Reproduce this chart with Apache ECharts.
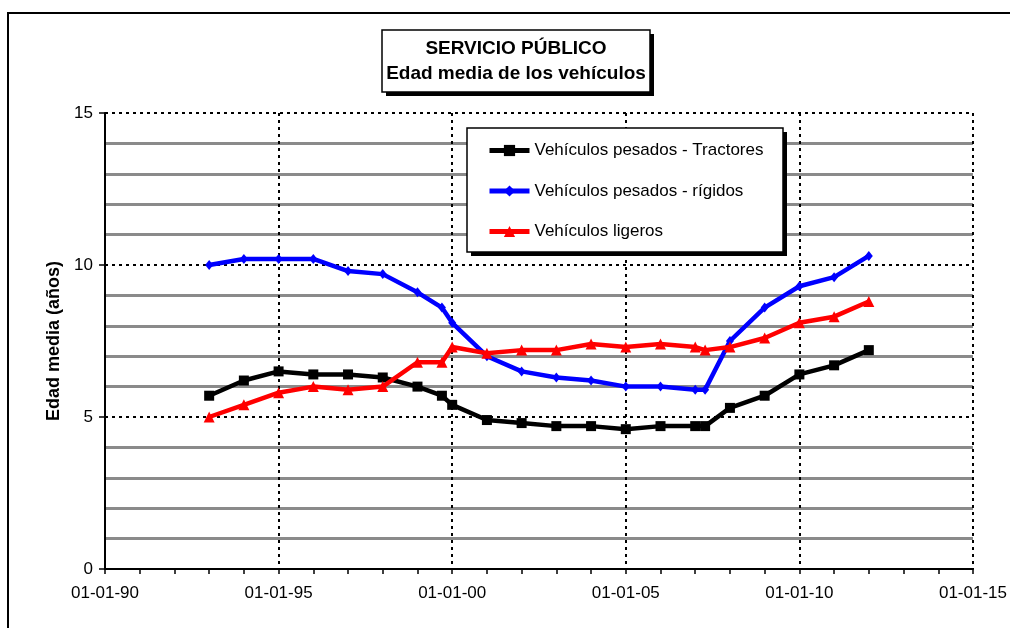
<!DOCTYPE html>
<html>
<head>
<meta charset="utf-8">
<script src="https://cdn.jsdelivr.net/npm/echarts@6/dist/echarts.min.js"></script>
<style>
  html, body { margin: 0; padding: 0; background: #fff; }
  #chart { width: 1010px; height: 628px; }
</style>
</head>
<body>
<div id="chart"></div>
<script>
// fechas de los datos (dd-mm-aa en el eje)
var fechas = [
  "1993-01-01", "1994-01-01", "1995-01-01", "1996-01-01", "1997-01-01",
  "1998-01-01", "1999-01-01", "1999-09-15", "2000-01-01", "2001-01-01",
  "2002-01-01", "2003-01-01", "2004-01-01", "2005-01-01", "2006-01-01",
  "2007-01-01", "2007-04-15", "2008-01-01", "2009-01-01", "2010-01-01",
  "2011-01-01", "2012-01-01",
];
var tractores = [5.7, 6.2, 6.5, 6.4, 6.4, 6.3, 6.0, 5.7, 5.4, 4.9, 4.8, 4.7, 4.7, 4.6, 4.7, 4.7, 4.7, 5.3, 5.7, 6.4, 6.7, 7.2];
var rigidos = [10.0, 10.2, 10.2, 10.2, 9.8, 9.7, 9.1, 8.6, 8.1, 7.0, 6.5, 6.3, 6.2, 6.0, 6.0, 5.9, 5.9, 7.5, 8.6, 9.3, 9.6, 10.3];
var ligeros = [5.0, 5.4, 5.8, 6.0, 5.9, 6.0, 6.8, 6.8, 7.3, 7.1, 7.2, 7.2, 7.4, 7.3, 7.4, 7.3, 7.2, 7.3, 7.6, 8.1, 8.3, 8.8];
var nombres = ["Vehículos pesados - Tractores", "Vehículos pesados - rígidos", "Vehículos ligeros"];

var FONT = "'Liberation Sans', Arial, sans-serif";
var gris = "#8a8a8a";
var nada = "rgba(0,0,0,0)";

// fecha -> año decimal
function anio(f) {
  var d = new Date(f + "T00:00:00Z");
  var y = d.getUTCFullYear();
  var ini = Date.UTC(y, 0, 1);
  var fin = Date.UTC(y + 1, 0, 1);
  return y + (d.getTime() - ini) / (fin - ini);
}

function puntos(vals) {
  return vals.map(function(v, i) {
    return [anio(fechas[i]), v];
  });
}

// caja con sombra negra (titulo y leyenda)
function caja(x, y, w, h) {
  return [
    {
      type: "rect",
      z: 10,
      shape: { x: x + 4, y: y + 4, width: w, height: h },
      style: { fill: "#000" },
    },
    {
      type: "rect",
      z: 11,
      shape: { x: x, y: y, width: w, height: h },
      style: { fill: "#fff", stroke: "#000", lineWidth: 1.5 },
    },
  ];
}

var chart = echarts.init(document.getElementById("chart"));
chart.setOption({
  animation: false,
  backgroundColor: "#fff",
  textStyle: { fontFamily: FONT },
  graphic: [
    {
      type: "rect",
      z: -10,
      shape: { x: 8, y: 13, width: 1100, height: 700 },
      style: { fill: null, stroke: "#000", lineWidth: 2 },
    },
  ]
    .concat(caja(382, 30, 268, 62))
    .concat(caja(467, 128, 316, 124)),
  title: {
    text: "SERVICIO PÚBLICO\nEdad media de los vehículos",
    left: 516,
    top: 36,
    textAlign: "center",
    padding: 0,
    z: 20,
    textStyle: {
      fontFamily: FONT,
      fontWeight: "bold",
      fontSize: 19,
      lineHeight: 25,
      color: "#000",
    },
  },
  legend: {
    data: nombres,
    orient: "vertical",
    left: 487,
    top: 142,
    itemWidth: 40,
    itemHeight: 14,
    itemGap: 23.5,
    padding: 0,
    z: 20,
    lineStyle: { width: 5 },
    textStyle: { fontFamily: FONT, fontSize: 17, color: "#000" },
  },
  grid: {
    left: 105,
    right: 32,
    top: 113,
    bottom: 59,
    containLabel: false,
  },
  xAxis: {
    type: "value",
    min: 1990,
    max: 2015,
    interval: 1,
    axisLine: { lineStyle: { color: "#000", width: 2 } },
    axisTick: { length: 5, lineStyle: { color: "#000", width: 1.5 } },
    axisLabel: {
      margin: 16,
      fontFamily: FONT,
      fontSize: 17,
      color: "#000",
      formatter: function(v) {
        if (v % 5 !== 0) return "";
        return "01-01-" + String(v).slice(2);
      },
    },
    splitLine: {
      show: true,
      lineStyle: {
        color: ["#000", nada, nada, nada, nada],
        width: 2,
        type: [3, 4],
      },
    },
  },
  yAxis: [
    {
      type: "value",
      min: 0,
      max: 15,
      interval: 5,
      name: "Edad media (años)",
      nameLocation: "middle",
      nameGap: 42,
      nameTextStyle: { fontFamily: FONT, fontWeight: "bold", fontSize: 18, color: "#000" },
      axisLine: { show: true, lineStyle: { color: "#000", width: 2 } },
      axisTick: { show: true, length: 6, lineStyle: { color: "#000", width: 1.5 } },
      axisLabel: { margin: 12, fontFamily: FONT, fontSize: 17, color: "#000" },
      splitLine: {
        show: true,
        lineStyle: { color: "#000", width: 2, type: [3, 4] },
      },
      z: 3,
    },
    {
      type: "value",
      min: 0,
      max: 15,
      interval: 1,
      position: "left",
      axisLine: { show: false },
      axisTick: { show: false },
      axisLabel: { show: false },
      splitLine: {
        show: true,
        lineStyle: { color: [nada, gris, gris, gris, gris], width: 3 },
      },
    },
  ],
  series: [
    {
      name: nombres[0],
      type: "line",
      data: puntos(tractores),
      symbol: "rect",
      symbolSize: 10,
      lineStyle: { color: "#000", width: 4.5 },
      itemStyle: { color: "#000" },
      z: 4,
    },
    {
      name: nombres[1],
      type: "line",
      data: puntos(rigidos),
      symbol: "diamond",
      symbolSize: [8, 10],
      lineStyle: { color: "#0000ff", width: 4.5 },
      itemStyle: { color: "#0000ff" },
      z: 5,
    },
    {
      name: nombres[2],
      type: "line",
      data: puntos(ligeros),
      symbol: "triangle",
      symbolSize: 11,
      lineStyle: { color: "#ff0000", width: 4.5 },
      itemStyle: { color: "#ff0000" },
      z: 6,
    },
  ],
});
</script>
</body>
</html>
